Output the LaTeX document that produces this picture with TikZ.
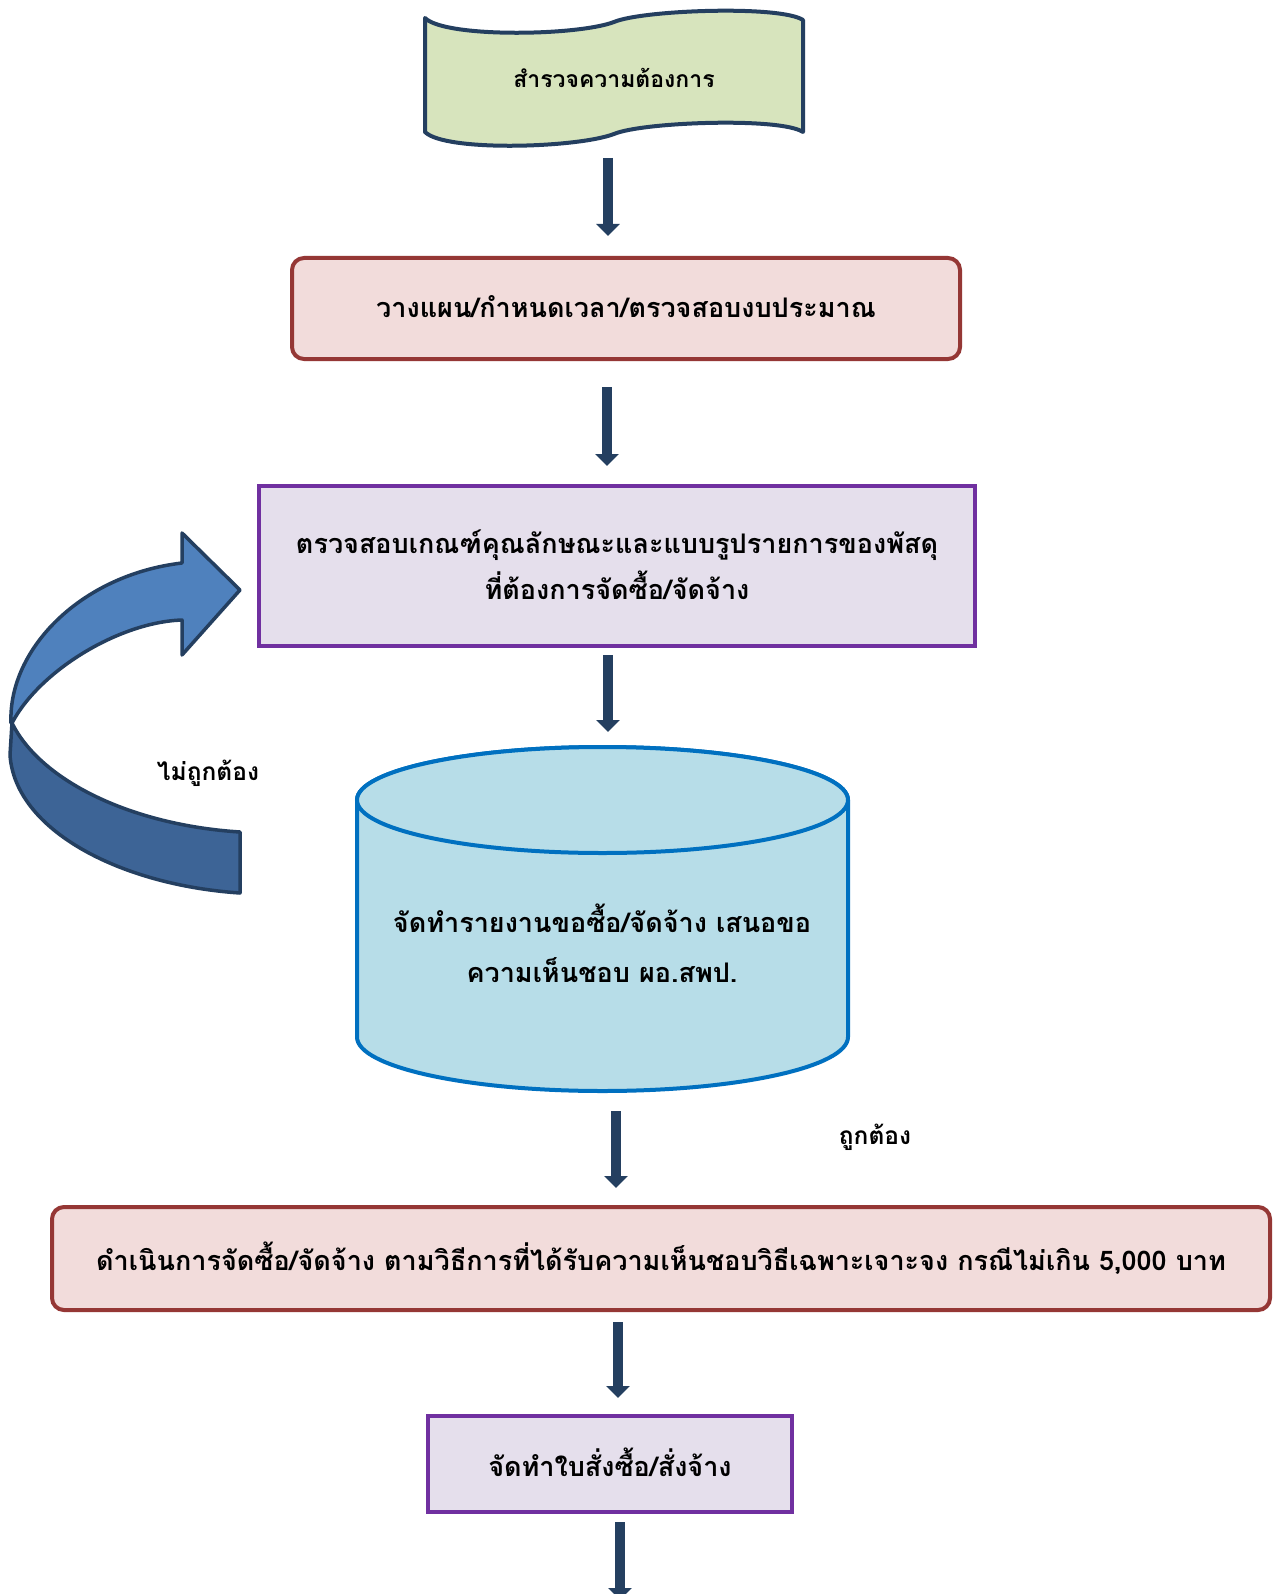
\documentclass[tikz,border=0pt]{standalone}
\usepackage{fontspec}
\newfontfamily\thaifont[Script=Thai]{Loma}
\usetikzlibrary{arrows.meta}
\definecolor{navy}{HTML}{243F60}
\definecolor{bannerfill}{HTML}{D7E4BD}
\definecolor{redline}{HTML}{953735}
\definecolor{redfill}{HTML}{F2DCDB}
\definecolor{purpline}{HTML}{7030A0}
\definecolor{purpfill}{HTML}{E5DFEC}
\definecolor{cylline}{HTML}{0070C0}
\definecolor{cylfill}{HTML}{B7DDE8}
\definecolor{upband}{HTML}{4F81BD}
\definecolor{lowband}{HTML}{3D6496}
\tikzset{
  thtext/.style={inner sep=0pt, align=center, font=\thaifont\bfseries\fontsize{27}{46}\selectfont},
  smalltext/.style={inner sep=0pt, font=\thaifont\bfseries\fontsize{24.5}{28}\selectfont},
  redbox/.style={draw=redline, fill=redfill, line width=4pt, rounded corners=12pt, inner sep=0pt},
  purpbox/.style={draw=purpline, fill=purpfill, line width=4pt, inner sep=0pt},
  downarrow/.style={draw=navy, line width=10pt, -{Triangle[width=23pt,length=12pt]}},
}
\begin{document}
\begin{tikzpicture}[x=1pt,y=-1pt]
\useasboundingbox (0,0) rectangle (1272,1594);
\fill[white] (0,0) rectangle (1272,1594);
\clip (0,0) rectangle (1272,1594);
% banner
\draw[navy, line width=4pt, fill=bannerfill, line join=round]
  (425,18) .. controls (445,38) and (577,36) .. (614,22)
  .. controls (642,10) and (780,5) .. (803,20)
  -- (803,132)
  .. controls (780,117) and (642,122) .. (614,134)
  .. controls (577,148) and (445,152) .. (425,132) -- cycle;
\node[thtext, font=\thaifont\bfseries\fontsize{23}{26}\selectfont] (survey) at (614,78) {สำรวจความต้องการ};
% boxes
\node[redbox, minimum width=668pt, minimum height=101pt] (plan) at (626,308.5) {};
\node[thtext] (plantext) at (626,307) {วางแผน/กำหนดเวลา/ตรวจสอบงบประมาณ};
\node[purpbox, minimum width=716pt, minimum height=160pt] (check) at (617,566) {};
\node[thtext] (checktext) at (617,565) {ตรวจสอบเกณฑ์คุณลักษณะและแบบรูปรายการของพัสดุ\\ที่ต้องการจัดซื้อ/จัดจ้าง};
% cylinder
\path[fill=cylfill, draw=cylline, line width=4pt]
  (357,800) -- (357,1037) arc[start angle=180, end angle=0, x radius=245.5, y radius=54]
  -- (848,800) arc[start angle=0, end angle=-180, x radius=245.5, y radius=53] -- cycle;
\draw[fill=cylfill, draw=cylline, line width=4pt] (602.5,800) ellipse[x radius=245.5, y radius=53];
\node[thtext, font=\thaifont\bfseries\fontsize{27}{50}\selectfont] (report) at (602,943) {จัดทำรายงานขอซื้อ/จัดจ้าง เสนอขอ\\ความเห็นชอบ ผอ.สพป.};
\node[redbox, minimum width=1218pt, minimum height=103pt] (proc) at (661,1258.5) {};
\node[thtext] (proctext) at (661,1258) {ดำเนินการจัดซื้อ/จัดจ้าง ตามวิธีการที่ได้รับความเห็นชอบวิธีเฉพาะเจาะจง กรณีไม่เกิน 5,000 บาท};
\node[purpbox, minimum width=364pt, minimum height=96pt] (order) at (610,1464) {};
\node[thtext] (ordertext) at (610,1462) {จัดทำใบสั่งซื้อ/สั่งจ้าง};
% labels
\node[smalltext] (wrong) at (208,773) {ไม่ถูกต้อง};
\node[smalltext] (right) at (875,1137) {ถูกต้อง};
% arrow coordinates
\coordinate (a1s) at (608,158); \coordinate (a1e) at (608,236);
\coordinate (a2s) at (607,387); \coordinate (a2e) at (607,466);
\coordinate (a3s) at (608,655); \coordinate (a3e) at (608,732);
\coordinate (a4s) at (616,1111); \coordinate (a4e) at (616,1188);
\coordinate (a5s) at (618,1322); \coordinate (a5e) at (618,1398);
\coordinate (a6s) at (620,1522); \coordinate (a6e) at (620,1600);
\draw[downarrow] (a1s) -- (a1e);
\draw[downarrow] (a2s) -- (a2e);
\draw[downarrow] (a3s) -- (a3e);
\draw[downarrow] (a4s) -- (a4e);
\draw[downarrow] (a5s) -- (a5e);
\draw[downarrow] (a6s) -- (a6e);
% curved return arrow
\draw[navy, line width=3.5pt, fill=lowband, line join=round]
  (12,723) .. controls (40,780) and (130,825) .. (240,832)
  -- (240,893)
  .. controls (120,885) and (15,830) .. (10,755) -- cycle;
\draw[navy, line width=3.5pt, fill=upband, line join=round]
  (11,723) .. controls (8,650) and (80,575) .. (182,563)
  -- (182,533) -- (240,590) -- (182,655) -- (182,620)
  .. controls (120,622) and (40,670) .. (12,723) -- cycle;
\end{tikzpicture}
\end{document}
